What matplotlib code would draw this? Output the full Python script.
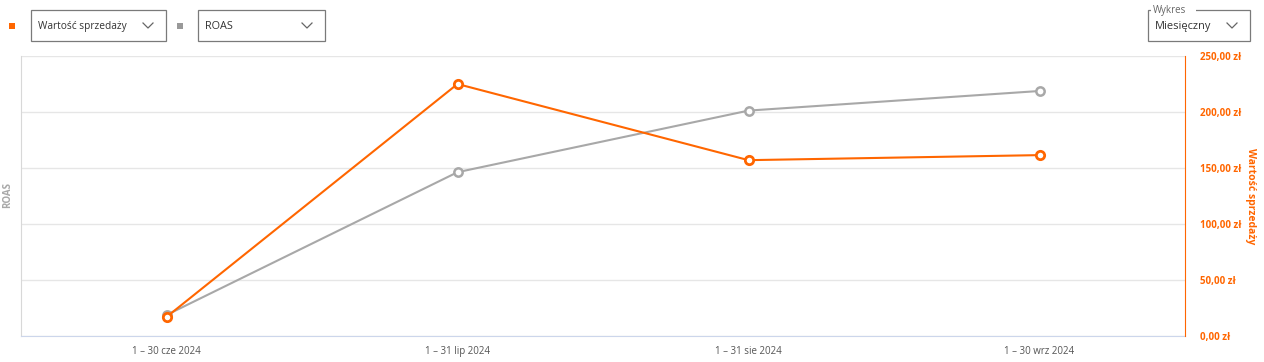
import numpy as np
import matplotlib.pyplot as plt
from matplotlib.patches import Rectangle
from matplotlib.lines import Line2D
from matplotlib.ticker import FuncFormatter

plt.rcParams['font.family'] = ['Open Sans', 'DejaVu Sans']

months = ['1 – 30 cze 2024', '1 – 31 lip 2024', '1 – 31 sie 2024', '1 – 30 wrz 2024']
sales = [17, 225, 157, 161.5]      # Wartość sprzedaży (zł)
roas = [0.75, 5.85, 8.05, 8.75]    # ROAS (no scale shown)

orange = '#ff6600'
gray = '#a8a8a8'
W, H = 1264, 362

fig = plt.figure(figsize=(W / 100, H / 100), dpi=100)
ax = fig.add_axes([21 / W, 1 - 336 / H, (1185 - 21) / W, (336 - 56) / H])
ax2 = ax.twinx()

x = np.arange(len(months))
ax.plot(x, roas, color=gray, lw=1.5, marker='o', ms=6, mfc='white', mec=gray, mew=1.8, zorder=3)
ax2.plot(x, sales, color=orange, lw=1.5, marker='o', ms=6, mfc='white', mec=orange, mew=2, zorder=4)

ax.set_xlim(-0.5, 3.5)
ax.set_ylim(0, 10)
ax2.set_ylim(0, 250)
ax2.set_yticks(np.arange(0, 251, 50))
ax2.yaxis.set_major_formatter(FuncFormatter(lambda v, p: f'{v:.2f}'.replace('.', ',') + ' zł'))
ax.set_yticks(np.arange(0, 10.1, 2))
ax.set_yticklabels([])
ax.tick_params(axis='y', length=0)
ax.set_xticks(x)
ax.set_xticklabels(months, fontsize=7, color='#555555')
ax.tick_params(axis='x', length=0, pad=7)
ax.grid(axis='y', color='#e6e6e6', lw=1)
ax.set_axisbelow(True)

for s in ['top', 'right']:
    ax.spines[s].set_visible(False)
ax.spines['left'].set_color('#d8d8d8')
ax.spines['bottom'].set_color('#ccd6eb')
for s in ['top', 'left', 'bottom']:
    ax2.spines[s].set_visible(False)
ax2.spines['right'].set_color(orange)
ax2.tick_params(axis='y', length=0, pad=11, labelsize=7, labelcolor=orange)
for t in ax2.get_yticklabels():
    t.set_fontweight('bold')
ax2.set_ylabel('Wartość sprzedaży', color=orange, fontsize=7.5, fontweight='bold', rotation=270, labelpad=10)
fig.text(8 / W, 1 - 195 / H, 'ROAS', color=gray, fontsize=7, fontweight='bold',
         rotation=90, ha='center', va='center')


def px(xp, yp):
    return xp / W, 1 - yp / H


def box(x0, y0, x1, y1, label, fs, legend=None):
    r = Rectangle(px(x0, y1), (x1 - x0) / W, (y1 - y0) / H, transform=fig.transFigure,
                  fill=False, ec='#7a7a7a', lw=0.9)
    fig.add_artist(r)
    fig.text(*px(x0 + 7, (y0 + y1) / 2 + 1), label, fontsize=fs, color='#333333', va='center')
    cx, cy = x1 - 18, (y0 + y1) / 2
    xs, ys = zip(px(cx - 5, cy - 2.5), px(cx, cy + 2.5), px(cx + 5, cy - 2.5))
    fig.add_artist(Line2D(xs, ys, transform=fig.transFigure, color='#666666', lw=0.9))
    if legend:
        fig.add_artist(Rectangle(px(x0 + 3, y0 + 1.5), 45 / W, 3 / H, transform=fig.transFigure,
                                 fc='white', ec='none'))
        fig.text(*px(x0 + 5, y0), legend, fontsize=7, color='#666666', va='center')


fig.add_artist(Rectangle(px(9, 29), 6 / W, 6 / H, transform=fig.transFigure, fc=orange, ec='none'))
box(31, 10, 166, 41, 'Wartość sprzedaży', 7.3)
fig.add_artist(Rectangle(px(177, 29), 6 / W, 6 / H, transform=fig.transFigure, fc='#999999', ec='none'))
box(198, 10, 325, 41, 'ROAS', 7.8)
box(1148, 10, 1250, 41, 'Miesięczny', 7.9, legend='Wykres')

fig.savefig('out.png', dpi=100)
